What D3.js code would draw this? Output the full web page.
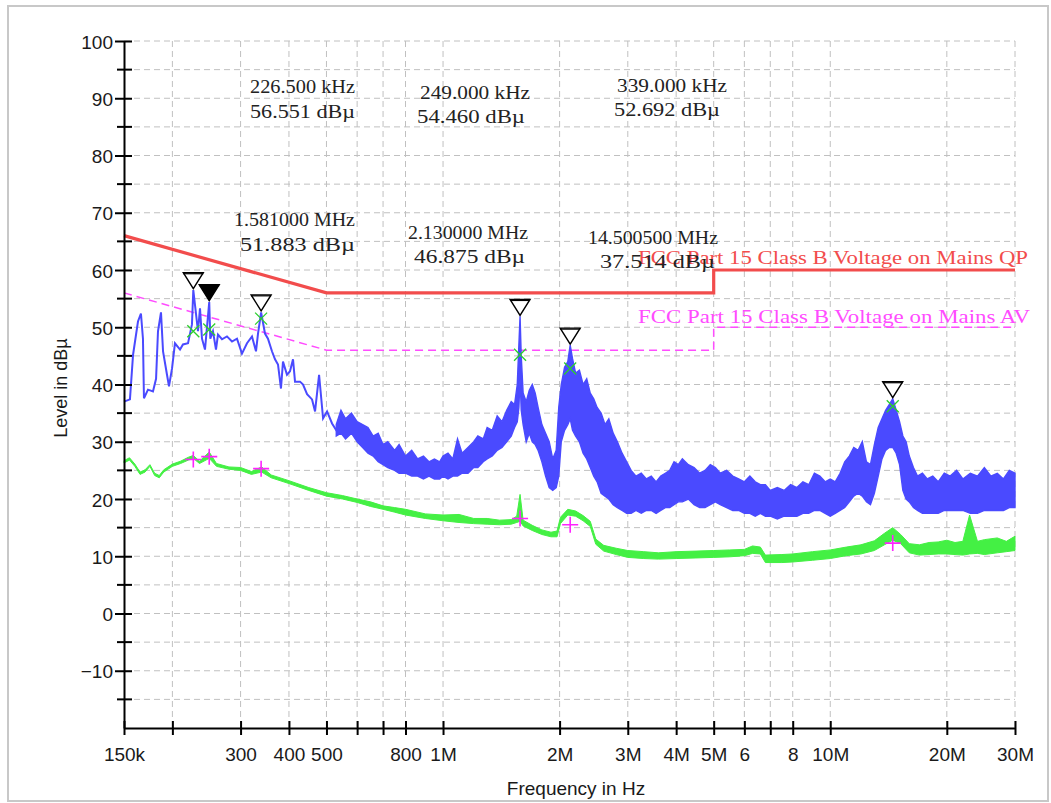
<!DOCTYPE html>
<html>
<head>
<meta charset="utf-8">
<script src="https://cdn.jsdelivr.net/npm/d3@7"></script>
<style>
body{margin:0;background:#fff;}
</style>
</head>
<body>
<div class="canvas"></div>
<script>
// ---- data (frequencies in kHz, levels in dBµV) ----

// x axis ticks + labels
const xTicks = [150,200,300,400,500,600,700,800,1000,2000,3000,4000,5000,6000,7000,8000,10000,20000,30000]
const xTickLabels = ['150k','','300','400','500','','','800','1M','2M','3M','4M','5M','6','','8','10M','20M','30M']
const yMajor = [-10,0,10,20,30,40,50,60,70,80,90,100]
const yMinor = [-15,-5,5,15,25,35,45,55,65,75,85,95]

// limit lines
const limitF = [150,500,5000,5000,30000]
const qpLimit = [66,56,56,60,60]
const avLimit = [56,46,46,50,50]

// peak scan, low part read as a line
const blueLineF = [150,155.4,158.3,163,165.9,167.9,168.9,173,178.2,181.5,183.6,186.9,189.2,193.7,196,199.6,203.1,209.3,213,219.5,224.7,226.5,232.9,235.7,238.5,242.8,249,250.6,254.6,259.2,262.3,268.6,276.7,285.1,293.7,302.5,311.7,321.1,328.8,332.8,339,346.9,353.1,361.6,368.2,374.8,381.5,386.1,395.4,402.5,409.8,414.7,427.2,435,445.5,458.9,467.2,478.5,490,501.8,516.9,532.5]
const blueLineV = [37.0,37.4,45.2,51.0,52.4,48.0,37.6,39.1,38.8,41.0,49.3,52.6,45.8,41.7,39.7,42.8,47.2,46.1,47.0,47.2,50.5,56.5,49.3,53.3,48.0,46.1,54.4,48.0,49.3,46.1,48.7,47.9,48.4,47.5,48.0,45.4,47.2,48.4,45.8,48.9,52.6,48.9,48.0,45.8,44.4,43.5,39.3,44.0,41.7,42.3,44.4,40.5,40.5,40.0,38.3,37.4,35.3,41.7,34.1,35.3,33.2,31.8]

// peak scan, noisy part read as low/high envelope
const blueBandF = [530,545,560,580,600,620,640,660,680,700,720,750,770,800,830,860,890,920,950,980,1000,1030,1060,1090,1120,1160,1200,1230,1270,1300,1340,1380,1420,1460,1500,1530,1555,1570,1581,1592,1610,1640,1670,1700,1730,1760,1800,1840,1880,1920,1960,1990,2020,2060,2100,2130,2160,2200,2250,2300,2350,2400,2450,2500,2560,2620,2680,2750,2820,2900,2980,3060,3150,3250,3350,3450,3550,3650,3750,3850,3950,4050,4150,4300,4450,4600,4750,4900,5050,5200,5400,5600,5800,6000,6200,6400,6600,6800,7000,7300,7600,7900,8200,8500,8800,9100,9400,9700,10000,10300,10600,10900,11200,11500,11800,12100,12400,12700,13000,13300,13600,13900,14200,14500,14800,15100,15400,15700,16000,16400,16800,17300,17800,18400,19000,19700,20400,21200,22000,23000,24000,25000,26000,27000,28000,29000,30000]
const blueBandLo = [31.0,31.5,30.5,31.5,30.0,29.0,28.0,27.5,26.5,26.0,25.5,25.0,24.5,24.5,24.0,24.0,23.5,24.0,23.5,23.5,24.0,23.5,24.0,24.0,24.5,24.5,25.5,25.5,26.5,27.0,27.5,28.5,29.0,30.0,31.0,32.5,33.5,36.0,41.0,35.5,33.0,30.0,31.5,30.0,29.5,28.5,26.5,24.0,22.0,21.5,22.0,24.0,30.0,32.0,33.0,34.0,32.0,31.0,30.0,28.0,27.0,25.5,24.0,23.0,21.0,20.5,20.0,19.0,18.5,18.0,17.5,17.5,18.0,17.5,18.0,18.0,17.5,18.0,18.5,18.5,19.0,19.5,19.5,20.0,19.0,18.5,18.5,19.0,19.5,19.0,18.5,18.0,18.0,17.5,17.5,17.0,17.5,17.0,17.0,16.5,17.0,17.0,17.0,17.5,17.5,18.0,18.0,17.5,17.0,17.5,18.0,18.5,19.5,20.5,21.0,20.5,19.5,19.0,21.0,24.0,27.0,28.5,29.0,29.0,28.0,26.0,21.5,20.0,19.5,18.5,18.0,17.5,17.5,17.5,17.5,18.0,18.0,18.0,18.0,17.5,17.5,18.0,18.0,18.0,18.0,18.5,18.5]
const blueBandHi = [33.0,35.5,34.0,35.0,33.5,33.0,32.5,31.0,31.5,29.5,30.0,28.5,29.5,27.5,28.5,27.0,27.5,26.5,27.0,26.5,27.5,28.0,27.0,30.5,28.0,29.0,30.0,31.0,30.5,32.5,32.0,34.5,33.5,35.5,37.0,36.5,40.0,47.0,51.9,45.0,38.5,37.0,39.0,40.0,38.5,36.0,33.0,31.5,30.0,27.0,28.5,36.0,40.0,43.0,44.0,46.9,44.5,42.0,42.5,40.0,41.0,38.5,37.5,36.0,35.0,33.0,34.0,31.5,30.0,28.0,26.5,25.0,24.0,24.5,23.5,24.0,23.0,24.0,24.5,25.0,26.5,26.0,27.0,26.0,25.5,24.5,25.0,26.0,25.5,24.5,25.0,24.0,23.5,23.0,24.0,23.0,22.5,22.5,21.5,22.0,21.5,22.5,22.0,23.0,22.5,24.5,24.0,23.0,23.5,23.0,24.5,26.5,27.5,29.0,28.5,30.0,26.5,26.0,29.5,32.5,34.0,35.5,36.5,37.5,35.5,33.5,31.0,30.0,27.5,25.5,24.0,24.5,23.5,24.0,23.0,24.5,24.0,25.0,23.5,24.5,24.0,25.5,24.0,24.5,23.5,25.0,24.5]

// average scan envelope
const greenF = [150,155,160,165,170,175,180,185,190,200,210,220,226.5,235,249,260,280,300,320,340,360,400,450,500,550,600,650,700,750,800,900,1000,1100,1200,1300,1400,1500,1550,1581,1610,1700,1800,1900,1970,2010,2100,2200,2300,2400,2480,2600,2800,3000,3300,3600,4000,4500,5000,5500,6000,6300,6600,6800,7500,8000,9000,10000,11000,12000,13000,13800,14500,15200,16000,17000,18000,19000,20000,21000,22000,22900,24000,25000,27000,28500,30000]
const greenLo = [26.3,26.8,25.7,24.3,24.7,25.7,24.1,23.7,24.7,25.7,26.2,26.8,27.1,26.2,27.1,25.7,25.2,25.0,24.3,24.7,23.7,22.7,21.5,20.5,20.0,19.4,18.7,18.2,17.7,17.2,16.6,16.2,15.9,15.7,15.6,15.5,15.6,15.9,16.1,15.3,14.5,13.8,13.4,13.4,15.7,17.2,17.0,16.2,15.2,12.1,10.9,10.3,9.8,9.6,9.5,9.6,9.7,9.8,9.9,10.1,10.5,10.4,8.9,8.9,9.0,9.3,9.6,10.1,10.4,11.0,12.0,12.8,12.2,10.6,10.2,10.3,10.4,10.4,10.3,10.2,10.4,10.5,10.3,10.6,10.8,11.0]
const greenHi = [26.7,27.2,26.1,24.7,25.1,26.0,24.5,24.1,25.1,26.1,26.6,27.3,27.6,26.6,28.2,26.2,25.6,25.5,24.8,25.6,24.2,23.2,22.0,21.1,20.6,20.0,19.5,18.8,18.5,18.2,17.4,17.2,17.3,16.6,16.6,16.3,16.4,17.0,20.8,16.3,15.4,14.6,14.2,14.4,16.8,18.2,17.9,17.1,16.1,13.0,11.9,11.4,11.0,10.8,10.6,10.8,10.9,11.0,11.1,11.2,11.8,11.6,10.2,10.3,10.4,10.8,11.1,11.6,12.0,12.7,14.0,15.0,13.8,12.2,12.0,12.4,12.5,12.8,12.4,12.6,17.2,12.6,12.9,13.2,12.6,13.5]

// final measurement markers
const peakF = [226.5,249,339,1581,2130,14500.5]
const peakV = [56.551,54.460,52.692,51.883,46.875,37.514]
const qpV = [49.3,49.6,51.5,45.2,42.8,36.2]
const avV = [26.9,27.4,25.3,16.6,15.5,12.3]
const peakFreqText = ['226.500 kHz','249.000 kHz','339.000 kHz','1.581000 MHz','2.130000 MHz','14.500500 MHz']
const peakLevelText = ['56.551 dBµ','54.460 dBµ','52.692 dBµ','51.883 dBµ','46.875 dBµ','37.514 dBµ']

// ---- layout ----
const margin = {top:41, right:36, bottom:75, left:124}
const graphWidth = 1051 - margin.left - margin.right
const graphHeight = 803 - margin.top - margin.bottom

const svg = d3.select('.canvas').append('svg').attr('width',1051).attr('height',803)

// panel frame
svg.append('rect').attr('x',8).attr('y',6).attr('width',1040).attr('height',795)
  .attr('fill','none').attr('stroke','#c8c8c8').attr('stroke-width',2)

const graph = svg.append('g').attr('transform',`translate(${margin.left},${margin.top})`)

const x = d3.scaleLog().domain([150,30000]).range([0,graphWidth])
const y = d3.scaleLinear().domain([-20,100]).range([graphHeight,0])

// grid
const gridGroup = graph.append('g').attr('stroke','#c0c0c0').attr('stroke-width',1).attr('stroke-dasharray','6,4')
gridGroup.selectAll('line.h').data(yMajor.concat(yMinor)).enter().append('line').attr('class','h')
  .attr('x1',0).attr('x2',graphWidth).attr('y1',d=>y(d)).attr('y2',d=>y(d))
gridGroup.selectAll('line.v').data(xTicks.slice(1)).enter().append('line').attr('class','v')
  .attr('x1',d=>x(d)).attr('x2',d=>x(d)).attr('y1',0).attr('y2',graphHeight)

// limit lines
const line = d3.line().x(d=>x(d[0])).y(d=>y(d[1]))
graph.append('path').datum(limitF.map((f,i)=>[f,qpLimit[i]]))
  .attr('fill','none').attr('stroke','#f24c4c').attr('stroke-width',3.2).attr('d',line)
graph.append('path').datum(limitF.map((f,i)=>[f,avLimit[i]]))
  .attr('fill','none').attr('stroke','#ff4cff').attr('stroke-width',1.5).attr('stroke-dasharray','8,5').attr('d',line)

// traces
const band = d3.area().x(d=>x(d.f)).y0(d=>y(d.lo)).y1(d=>y(d.hi))

const greenRows = greenF.map((f,i)=>({f:f, lo:greenLo[i], hi:greenHi[i]}))
graph.append('path').datum(greenRows)
  .attr('fill','#44f044').attr('stroke','#44f044').attr('stroke-width',1).attr('d',band)

const blueRows = blueBandF.map((f,i)=>({f:f, lo:blueBandLo[i], hi:blueBandHi[i]}))
graph.append('path').datum(blueRows)
  .attr('fill','#4a4aff').attr('stroke','#4a4aff').attr('stroke-width',1.4).attr('d',band)

graph.append('path').datum(blueLineF.map((f,i)=>[f,blueLineV[i]]))
  .attr('fill','none').attr('stroke','#4a4aff').attr('stroke-width',2).attr('d',line)

// limit labels
graph.append('text').attr('x',514).attr('y',223).text('FCC Part 15 Class B Voltage on Mains QP')
  .attr('fill','#f24c4c').attr('font-family','Liberation Serif').attr('font-size',18)
  .attr('textLength',390).attr('lengthAdjust','spacingAndGlyphs')
graph.append('text').attr('x',514).attr('y',282).text('FCC Part 15 Class B Voltage on Mains AV')
  .attr('fill','#ff4cff').attr('font-family','Liberation Serif').attr('font-size',18)
  .attr('textLength',392).attr('lengthAdjust','spacingAndGlyphs')

// markers
const markerGroup = graph.append('g')
peakF.forEach((f,i)=>{
  const px = x(f), py = y(peakV[i])
  markerGroup.append('path')
    .attr('d',`M${px-10},${py-17}L${px+10},${py-17}L${px},${py-1}Z`)
    .attr('fill', i === 1 ? '#000' : '#fff').attr('stroke','#000').attr('stroke-width',1.4)
  markerGroup.append('line').attr('x1',px-10).attr('x2',px+10).attr('y1',py-16).attr('y2',py-16)
    .attr('stroke','#000').attr('stroke-width',1.2)

  const qy = y(qpV[i])
  markerGroup.append('path').attr('d',`M${px-6},${qy-6}L${px+6},${qy+6}M${px-6},${qy+6}L${px+6},${qy-6}`)
    .attr('stroke','#2ccf2c').attr('stroke-width',1.3)

  const ay = y(avV[i])
  markerGroup.append('path').attr('d',`M${px-8},${ay}L${px+8},${ay}M${px},${ay-8}L${px},${ay+8}`)
    .attr('stroke','#ff22ff').attr('stroke-width',1.6)
})

// marker readouts
const labelPos = [[126,52,105,126,77,105],[296,58,110,293,82,108],[493,51,110,490,75,106],[110,185,121,116,210,115],[284,198,120,290,222,111],[464,203,130,476,227,115]]
peakFreqText.forEach((t,i)=>{
  const p = labelPos[i]
  graph.append('text').attr('x',p[0]).attr('y',p[1]).text(t)
    .attr('font-family','Liberation Serif').attr('font-size',18).attr('fill','#222')
    .attr('textLength',p[2]).attr('lengthAdjust','spacingAndGlyphs')
  graph.append('text').attr('x',p[3]).attr('y',p[4]).text(peakLevelText[i])
    .attr('font-family','Liberation Serif').attr('font-size',18).attr('fill','#222')
    .attr('textLength',p[5]).attr('lengthAdjust','spacingAndGlyphs')
})

// axes
const xAxisGroup = graph.append('g').attr('transform',`translate(0,${graphHeight})`)
const yAxisGroup = graph.append('g')

xAxisGroup.call(d3.axisBottom(x).tickValues(xTicks).tickFormat((d,i)=>xTickLabels[i]).tickSize(7).tickSizeOuter(0))
yAxisGroup.call(d3.axisLeft(y).tickValues(yMajor).tickSize(9).tickSizeOuter(0))

xAxisGroup.selectAll('.tick line').attr('y1',-7).attr('y2',7).attr('stroke-width',2)
yAxisGroup.selectAll('.tick line').attr('x1',8).attr('stroke-width',2)
xAxisGroup.select('.domain').attr('stroke-width',2)
yAxisGroup.select('.domain').attr('stroke-width',2)

xAxisGroup.selectAll('text').attr('y',33).attr('dy',0)
  .attr('font-family','Liberation Sans').attr('font-size',19).attr('fill','#1a1a1a')
yAxisGroup.selectAll('text').attr('x',-11).attr('dy','0.38em')
  .attr('font-family','Liberation Sans').attr('font-size',19).attr('fill','#1a1a1a')

// minor y ticks
yAxisGroup.selectAll('line.minor').data(yMinor).enter().append('line').attr('class','minor')
  .attr('x1',-7).attr('x2',8).attr('y1',d=>y(d)).attr('y2',d=>y(d))
  .attr('stroke','#000').attr('stroke-width',2)

// axis titles
svg.append('text').attr('transform','translate(67,388) rotate(-90)').attr('text-anchor','middle')
  .attr('font-family','Liberation Sans').attr('font-size',18).attr('fill','#1a1a1a').text('Level in dBµ')
svg.append('text').attr('x',576).attr('y',795).attr('text-anchor','middle')
  .attr('font-family','Liberation Sans').attr('font-size',19).attr('fill','#1a1a1a').text('Frequency in Hz')
</script>
</body>
</html>
